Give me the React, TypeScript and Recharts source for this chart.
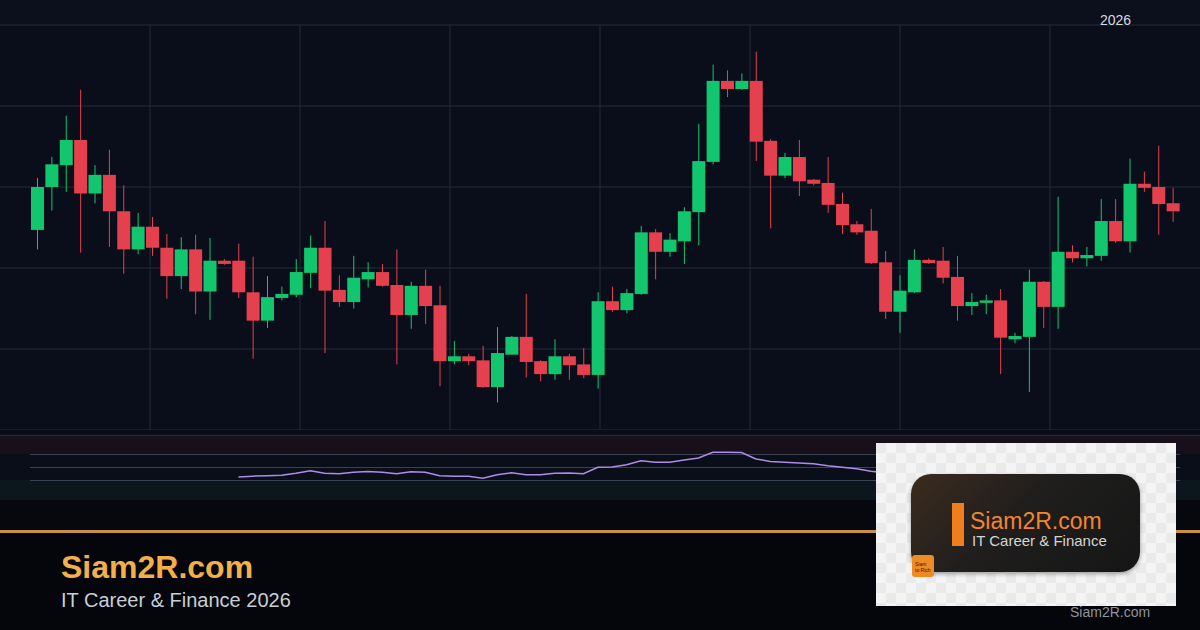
import { ComposedChart, Bar, Line, XAxis, YAxis, CartesianGrid, ReferenceLine } from "recharts";

// candle values (grid step = 10)
const OPEN = [
  124.7, 130.0, 132.7, 135.8, 129.2, 131.5, 127.0, 122.3, 125.1, 122.5,
  119.0, 122.3, 117.1, 120.9, 120.9, 117.0, 113.5, 116.3, 116.7, 119.4,
  122.5, 117.3, 115.8, 118.6, 119.5, 117.9, 114.2, 117.8, 115.4, 108.5,
  109.1, 108.6, 105.3, 109.3, 111.5, 108.5, 106.9, 109.1, 108.1, 106.8,
  115.9, 114.8, 116.8, 124.4, 122.0, 123.3, 126.9, 133.1, 143.1, 142.1,
  143.1, 135.7, 131.4, 133.7, 130.9, 130.5, 127.9, 125.4, 124.6, 120.7,
  114.6, 117.0, 121.0, 120.9, 118.9, 115.3, 115.7, 116.0, 111.2, 111.5,
  118.3, 115.2, 122.0, 121.2, 121.5, 125.8, 123.3, 130.4, 130.0, 128.0,
];
const HIGH = [
  131.1, 133.7, 138.8, 142.0, 132.7, 134.6, 130.2, 126.8, 126.3, 124.2,
  123.8, 124.1, 123.7, 121.1, 123.0, 121.4, 119.0, 117.7, 121.1, 124.0,
  125.8, 119.1, 121.5, 120.7, 120.5, 122.3, 118.3, 119.8, 117.8, 111.0,
  109.4, 110.4, 112.7, 111.6, 116.8, 108.6, 111.2, 109.4, 110.1, 117.0,
  117.7, 117.4, 125.2, 124.8, 124.3, 127.5, 137.8, 145.1, 144.4, 144.0,
  146.7, 135.9, 134.2, 135.8, 131.0, 133.7, 129.3, 125.8, 127.3, 122.1,
  119.1, 122.3, 121.2, 122.6, 121.5, 116.9, 116.7, 117.4, 112.0, 119.8,
  118.4, 128.8, 122.8, 122.6, 128.5, 128.5, 133.5, 131.9, 135.1, 129.9,
];
const LOW = [
  122.3, 127.1, 129.4, 121.9, 128.0, 122.6, 119.3, 121.7, 121.5, 116.2,
  117.4, 114.3, 113.6, 120.4, 116.3, 108.8, 112.6, 116.0, 116.4, 117.5,
  109.5, 115.2, 115.0, 117.6, 117.7, 108.1, 112.5, 113.1, 105.4, 108.1,
  108.0, 105.2, 103.4, 109.3, 106.5, 106.0, 106.2, 106.2, 106.4, 105.1,
  114.6, 114.4, 116.7, 118.6, 121.4, 120.5, 122.8, 132.8, 141.1, 142.0,
  133.2, 124.9, 131.1, 128.9, 130.2, 126.8, 124.2, 124.1, 120.5, 113.7,
  112.0, 116.9, 120.5, 118.1, 113.5, 114.2, 114.3, 106.9, 110.7, 104.7,
  112.6, 112.5, 120.7, 120.2, 120.9, 123.1, 121.9, 129.4, 124.1, 125.7,
];
const CLOSE = [
  130.0, 132.8, 135.8, 129.2, 131.5, 127.0, 122.3, 125.1, 122.5, 119.0,
  122.3, 117.1, 120.9, 120.5, 117.0, 113.5, 116.4, 116.8, 119.5, 122.5,
  117.2, 115.8, 118.8, 119.5, 117.8, 114.2, 117.8, 115.3, 108.5, 109.1,
  108.5, 105.3, 109.5, 111.5, 108.4, 106.9, 109.1, 108.0, 106.8, 115.9,
  114.8, 116.9, 124.4, 122.0, 123.5, 127.0, 133.2, 143.1, 142.1, 143.1,
  135.6, 131.4, 133.7, 130.7, 130.4, 127.8, 125.3, 124.4, 120.6, 114.6,
  117.2, 121.0, 120.6, 118.8, 115.3, 115.8, 116.0, 111.4, 111.6, 118.3,
  115.2, 122.0, 121.2, 121.6, 125.8, 123.3, 130.4, 129.9, 127.9, 127.0,
];

// RSI starts at candle 15 (index 14); the rest is hidden under the logo
const RSI_START = 14;
const RSI = [
  35.5, 36.7, 37.4, 38.2, 41.2, 45.0, 41.2, 40.5, 42.7, 43.9,
  42.7, 40.5, 43.5, 42.7, 37.4, 36.4, 36.4, 33.6, 38.9, 42.0,
  38.9, 38.9, 41.2, 41.5, 40.5, 50.3, 50.6, 54.1, 60.2, 58.2,
  58.2, 61.7, 64.7, 73.3, 73.3, 73.0, 63.2, 59.4, 58.2, 57.1,
  55.6, 52.6, 50.3, 48.0, 44.2, 42.0, 38.9,
];

const PRICE_TICKS = [100, 110, 120, 130, 140, 150];
const RSI_LEVELS = [70, 50, 30];

const GREEN = "#12c66e";
const RED = "#e5404d";
const GRID = "#222a3b";
const FONT = '"Liberation Sans", Arial, sans-serif';

// candles fill x = 30..1180, the grid runs across the whole 1200px
const STEP = 1150 / OPEN.length;
const X_DOMAIN = [-0.5 - 30 / STEP, OPEN.length - 0.5 + 20 / STEP];
const V_GRID = [150, 300, 450, 600, 750, 900, 1050];

const data = OPEN.map((open, i) => ({
  i,
  open,
  high: HIGH[i],
  low: LOW[i],
  close: CLOSE[i],
  range: [LOW[i], HIGH[i]],
  rsi: i >= RSI_START && i - RSI_START < RSI.length ? RSI[i - RSI_START] : undefined,
}));

function Candle(props: any) {
  const { x, y, width, height, payload } = props;
  if (x == null || y == null) return null;
  const { open, close, high, low } = payload;
  const color = close >= open ? GREEN : RED;
  const top = Math.min(y, y + height);
  const h = Math.abs(height);
  const k = h / (high - low || 1);
  const yOf = (v: number) => top + (high - v) * k;
  const cx = x + width / 2;
  const bTop = yOf(Math.max(open, close));
  const bBot = yOf(Math.min(open, close));
  return (
    <g>
      <line x1={cx} x2={cx} y1={top} y2={top + h} stroke={color} strokeWidth={1} />
      <rect x={x} y={bTop} width={width} height={Math.max(2, bBot - bTop)} fill={color} />
    </g>
  );
}

function Logo() {
  return (
    <div
      style={{
        position: "absolute",
        left: 876,
        top: 443,
        width: 300,
        height: 163,
        background: "repeating-conic-gradient(#f4f4f4 0% 25%, #eaeaea 0% 50%) 0 0 / 20px 20px",
      }}
    >
      <div
        style={{
          position: "absolute",
          left: 35,
          top: 31,
          width: 229,
          height: 98,
          borderRadius: 20,
          background: "linear-gradient(135deg, #3c2b1e 0%, #1f1e1d 45%, #161616 100%)",
          boxShadow: "0 2px 4px rgba(0,0,0,0.35)",
        }}
      >
        <div style={{ position: "absolute", left: 41, top: 29, width: 12, height: 43, background: "#f07d1e" }} />
        <div
          style={{
            position: "absolute",
            left: 59,
            top: 36,
            fontSize: 23,
            lineHeight: "22px",
            color: "#f4852a",
            whiteSpace: "nowrap",
          }}
        >
          Siam2R.com
        </div>
        <div
          style={{
            position: "absolute",
            left: 61,
            top: 59,
            fontSize: 15,
            lineHeight: "15px",
            color: "#d4d4d4",
            whiteSpace: "nowrap",
          }}
        >
          IT Career &amp; Finance
        </div>
      </div>
      <div
        style={{
          position: "absolute",
          left: 36,
          top: 112,
          width: 22,
          height: 22,
          borderRadius: 3,
          background: "#f08a24",
          color: "#3a1a05",
          fontSize: 5,
          lineHeight: "6px",
          padding: "6px 0 0 3px",
          boxSizing: "border-box",
        }}
      >
        Siam
        <br />
        to Rich
      </div>
    </div>
  );
}

export default function App() {
  return (
    <div
      style={{
        position: "fixed",
        left: 0,
        top: 0,
        width: 1200,
        height: 630,
        overflow: "hidden",
        background: "#05060b",
        fontFamily: FONT,
      }}
    >
      {/* price pane */}
      <div style={{ position: "absolute", left: 0, top: 0, width: 1200, height: 25, background: "#0c101d" }} />
      <div style={{ position: "absolute", left: 0, top: 25, width: 1200, height: 405, background: "#0a0e1a" }} />
      <div style={{ position: "absolute", left: 0, top: 0 }}>
        <ComposedChart width={1200} height={432} data={data} margin={{ top: 25, right: 0, bottom: 2, left: 0 }}>
          <CartesianGrid stroke={GRID} strokeWidth={1} verticalPoints={V_GRID} />
          <XAxis dataKey="i" type="number" domain={X_DOMAIN} allowDataOverflow hide />
          <YAxis domain={[100, 150]} ticks={PRICE_TICKS} allowDataOverflow hide />
          <Bar dataKey="range" barSize={13} shape={<Candle />} isAnimationActive={false} />
        </ComposedChart>
      </div>
      <div
        style={{
          position: "absolute",
          left: 1100,
          top: 13,
          fontSize: 14,
          lineHeight: "14px",
          color: "#d6dae2",
        }}
      >
        2026
      </div>

      {/* RSI pane */}
      <div style={{ position: "absolute", left: 0, top: 430, width: 1200, height: 5, background: "#0a0d17" }} />
      <div style={{ position: "absolute", left: 0, top: 435, width: 1200, height: 19, background: "#170f19" }} />
      <div style={{ position: "absolute", left: 0, top: 435, width: 1200, height: 1, background: "#262b3a" }} />
      <div style={{ position: "absolute", left: 0, top: 454, width: 1200, height: 26, background: "#0a0e18" }} />
      <div style={{ position: "absolute", left: 0, top: 480, width: 1200, height: 20, background: "#0b161d" }} />
      <div style={{ position: "absolute", left: 0, top: 500, width: 1200, height: 30, background: "#06080e" }} />
      <div style={{ position: "absolute", left: 0, top: 435 }}>
        <ComposedChart width={1200} height={65} data={data} margin={{ top: 0, right: 0, bottom: 0, left: 0 }}>
          <XAxis dataKey="i" type="number" domain={X_DOMAIN} allowDataOverflow hide />
          <YAxis domain={[0, 100]} allowDataOverflow hide />
          {RSI_LEVELS.map((lv) => (
            <ReferenceLine
              key={lv}
              segment={[
                { x: -0.5, y: lv },
                { x: OPEN.length - 0.5, y: lv },
              ]}
              stroke="#3a4252"
              strokeWidth={1}
            />
          ))}
          <Line
            dataKey="rsi"
            type="linear"
            stroke="#b08be8"
            strokeWidth={1.5}
            dot={false}
            isAnimationActive={false}
          />
        </ComposedChart>
      </div>

      {/* footer */}
      <div style={{ position: "absolute", left: 0, top: 530, width: 1200, height: 3, background: "#c8923e" }} />
      <div
        style={{
          position: "absolute",
          left: 61,
          top: 551,
          fontSize: 32,
          lineHeight: "32px",
          fontWeight: 700,
          color: "#f3b04a",
        }}
      >
        Siam2R.com
      </div>
      <div
        style={{
          position: "absolute",
          left: 61,
          top: 590,
          fontSize: 20,
          lineHeight: "20px",
          color: "#c9ced6",
        }}
      >
        IT Career &amp; Finance 2026
      </div>
      <div
        style={{
          position: "absolute",
          left: 1070,
          top: 605,
          fontSize: 14,
          lineHeight: "14px",
          color: "#8e939c",
        }}
      >
        Siam2R.com
      </div>
      <Logo />
    </div>
  );
}
